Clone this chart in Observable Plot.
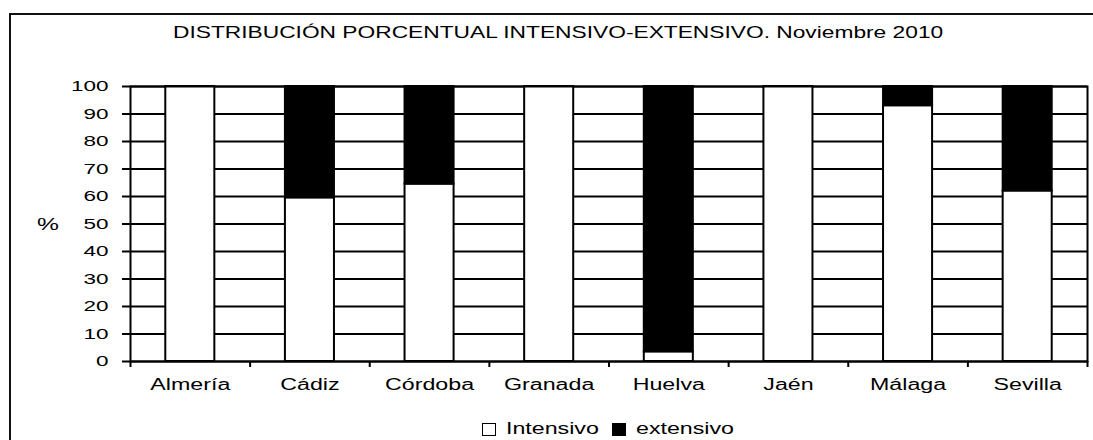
<!DOCTYPE html>
<html>
<head>
<meta charset="utf-8">
<script src="https://cdn.jsdelivr.net/npm/d3@7"></script>
<script src="https://cdn.jsdelivr.net/npm/@observablehq/plot@0.6"></script>
<style>
  html, body { margin: 0; padding: 0; background: #fff; }
  body { width: 1093px; height: 440px; overflow: hidden; position: relative;
         font-family: "Liberation Sans", Arial, sans-serif; color: #000; }
  #border { position: absolute; left: 9px; top: 13px; width: 1200px; height: 600px;
            border-left: 2px solid #111; border-top: 2px solid #111; }
  .st { display: inline-block; transform-origin: 0 50%; white-space: nowrap; }
  #title { position: absolute; left: 173px; top: 24px; font-size: 15.7px; line-height: 18px; }
  #ylabel { position: absolute; left: 37px; top: 215px; font-size: 17px; line-height: 20px; }
  #chart { position: absolute; left: 0; top: 60px; }
  #legend { position: absolute; left: 482px; top: 419px; font-size: 16px; line-height: 20px;
            display: flex; align-items: center; white-space: nowrap; }
  .sw { display: inline-block; width: 14px; height: 13px; box-sizing: border-box;
        border: 1.5px solid #000; margin-right: 10px; }
</style>
</head>
<body>
<div id="border"></div>
<div id="title"><span class="st">DISTRIBUCIÓN PORCENTUAL INTENSIVO-EXTENSIVO. Noviembre 2010</span></div>
<div id="ylabel"><span class="st">%</span></div>
<div id="chart"></div>
<div id="legend"></div>
<script>
// ---- data ----
const provincias = ["Almería", "Cádiz", "Córdoba", "Granada", "Huelva", "Jaén", "Málaga", "Sevilla"];
const intensivo = [100, 59.5, 64.5, 100, 3.5, 100, 93, 62];
const extensivo = [0, 40.5, 35.5, 0, 96.5, 0, 7, 38];
const series = ["Intensivo", "extensivo"];
const seriesColors = ["#ffffff", "#000000"];
const yTicks = [0, 10, 20, 30, 40, 50, 60, 70, 80, 90, 100];

const rows = [];
provincias.forEach((p, i) => {
  rows.push({provincia: p, serie: series[0], valor: intensivo[i]});
  rows.push({provincia: p, serie: series[1], valor: extensivo[i]});
});

const STRETCH = 1.45;
const W = 1093, H = 340, mL = 130, mR = 6, mT = 26, mB = 39;
const step = (W - mL - mR) / provincias.length;

const chart = Plot.plot({
  width: W, height: H,
  marginLeft: mL, marginRight: mR, marginTop: mT, marginBottom: mB,
  style: {background: "transparent", fontFamily: "'Liberation Sans', Arial, sans-serif", fontSize: "15px", color: "#000"},
  x: {type: "band", domain: provincias, paddingInner: 0.59, paddingOuter: 0.295, round: false, axis: null},
  y: {domain: [0, 100], axis: null},
  color: {domain: series, range: seriesColors},
  marks: [
    Plot.ruleY(yTicks, {stroke: "#000", strokeWidth: 2}),
    Plot.barY(rows.filter(d => d.valor > 0), {x: "provincia", y: "valor", fill: "serie", stroke: "#000", strokeWidth: 2, z: "serie", order: series}),
    Plot.frame({stroke: "#000", strokeWidth: 2}),
    Plot.axisY({ticks: yTicks, label: null, tickSize: 8, tickPadding: 14, strokeWidth: 2, fontSize: 15.5}),
    Plot.axisX({label: null, tickSize: 0, tickPadding: 17, fontSize: 16}),
    Plot.axisX({label: null, tickSize: 6, strokeWidth: 2, tickFormat: () => "", dx: -step / 2}),
    Plot.axisX({label: null, ticks: provincias.slice(-1), tickSize: 6, strokeWidth: 2, tickFormat: () => "", dx: step / 2})
  ]
});
document.getElementById("chart").appendChild(chart);

// horizontally stretched lettering, like the original
chart.querySelectorAll("text").forEach(t => {
  const L = t.getComputedTextLength();
  if (L > 0) {
    t.setAttribute("textLength", L * STRETCH);
    t.setAttribute("lengthAdjust", "spacingAndGlyphs");
  }
});

// legend
const legend = document.getElementById("legend");
series.forEach((s, i) => {
  const sw = document.createElement("span");
  sw.className = "sw";
  sw.style.background = seriesColors[i];
  if (i > 0) sw.style.marginLeft = "13px";
  legend.appendChild(sw);
  const lab = document.createElement("span");
  lab.className = "st";
  lab.textContent = s;
  legend.appendChild(lab);
});

// stretch HTML texts
document.querySelectorAll(".st").forEach(el => {
  const w = el.getBoundingClientRect().width;
  el.style.transform = `scaleX(${STRETCH})`;
  el.style.marginRight = `${w * (STRETCH - 1)}px`;
});
</script>
</body>
</html>
